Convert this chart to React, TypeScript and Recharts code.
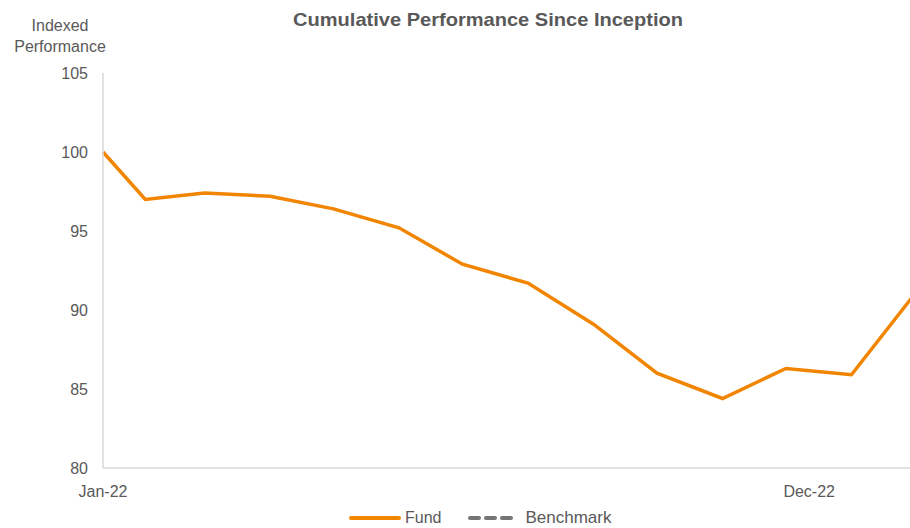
import React from 'react';
import { LineChart, Line, XAxis, YAxis, Legend, Customized } from 'recharts';

// month-end observations, first point is inception
const dates = [
  '2022-01-11', '2022-01-31', '2022-02-28', '2022-03-31', '2022-04-30',
  '2022-05-31', '2022-06-30', '2022-07-31', '2022-08-31', '2022-09-30',
  '2022-10-31', '2022-11-30', '2022-12-31', '2023-01-31',
];
const fund = [100, 97.0, 97.4, 97.2, 96.4, 95.2, 92.9, 91.7, 89.1, 86.0, 84.4, 86.3, 85.9, 91.2];
const benchmark: (number | null)[] = dates.map(() => null);

const xTickDates = ['2022-01-11', '2022-12-11'];
const xTickLabels = ['Jan-22', 'Dec-22'];
const yTicks = [80, 85, 90, 95, 100, 105];

const FONT = '"Liberation Sans", Arial, sans-serif';
const GREY = '#595959';
const ORANGE = '#F28500';

const toDay = (d: string) => Date.parse(d) / 86400000;

const data = dates.map((d, i) => ({ t: toDay(d), fund: fund[i], benchmark: benchmark[i] }));
const xTicks = xTickDates.map(toDay);

const LegendContent = () => (
  <div style={{ display: 'flex', alignItems: 'center', paddingLeft: 349, fontFamily: FONT, fontSize: 16, color: GREY }}>
    <svg width={52} height={10}>
      <line x1={2} y1={5} x2={50} y2={5} stroke={ORANGE} strokeWidth={4} strokeLinecap="round" />
    </svg>
    <span style={{ marginLeft: 4 }}>Fund</span>
    <svg width={52} height={10} style={{ marginLeft: 26 }}>
      <line x1={3} y1={5} x2={49} y2={5} stroke="#767676" strokeWidth={4} strokeLinecap="round" strokeDasharray="9 7" />
    </svg>
    <span style={{ marginLeft: 6, fontSize: 17 }}>Benchmark</span>
  </div>
);

const Titles = () => (
  <g fontFamily={FONT}>
    <text x={488} y={26} textAnchor="middle" fontSize={19} fontWeight="bold" fill={GREY}
      textLength={390} lengthAdjust="spacingAndGlyphs">
      Cumulative Performance Since Inception
    </text>
    <text x={60} y={31} textAnchor="middle" fontSize={16} fill={GREY}>Indexed</text>
    <text x={60} y={52} textAnchor="middle" fontSize={16} fill={GREY}>Performance</text>
  </g>
);

export default function App() {
  // the plot runs a few pixels past the right edge of the frame, as in the source image
  return (
    <div style={{ position: 'absolute', left: 0, top: 0, width: 910, height: 528, overflow: 'hidden', background: '#fff' }}>
      <LineChart width={917} height={528} data={data} margin={{ top: 73, right: 0, bottom: 30, left: 0 }}>
        <XAxis
          dataKey="t"
          type="number"
          height={30}
          domain={['dataMin', 'dataMax']}
          ticks={xTicks}
          tickFormatter={(v: number) => xTickLabels[xTicks.indexOf(v)] ?? ''}
          axisLine={{ stroke: '#d9d9d9', strokeWidth: 1.5 }}
          tickLine={false}
          tickMargin={12}
          tick={{ fill: GREY, fontSize: 16, fontFamily: FONT }}
          interval={0}
        />
        <YAxis
          width={103}
          domain={[80, 105]}
          ticks={yTicks}
          axisLine={{ stroke: '#d9d9d9', strokeWidth: 1.5 }}
          tickLine={false}
          tickMargin={9}
          tick={{ fill: GREY, fontSize: 16, fontFamily: FONT }}
        />
        <Legend
          layout="horizontal"
          verticalAlign="middle"
          align="center"
          wrapperStyle={{ top: 508, left: 0, width: 910 }}
          content={<LegendContent />}
        />
        <Line
          type="linear"
          dataKey="fund"
          name="Fund"
          stroke={ORANGE}
          strokeWidth={3.5}
          dot={false}
          isAnimationActive={false}
        />
        <Line
          type="linear"
          dataKey="benchmark"
          name="Benchmark"
          stroke="#767676"
          strokeWidth={3.5}
          strokeDasharray="9 7"
          dot={false}
          isAnimationActive={false}
        />
        <Customized component={Titles} />
      </LineChart>
    </div>
  );
}
